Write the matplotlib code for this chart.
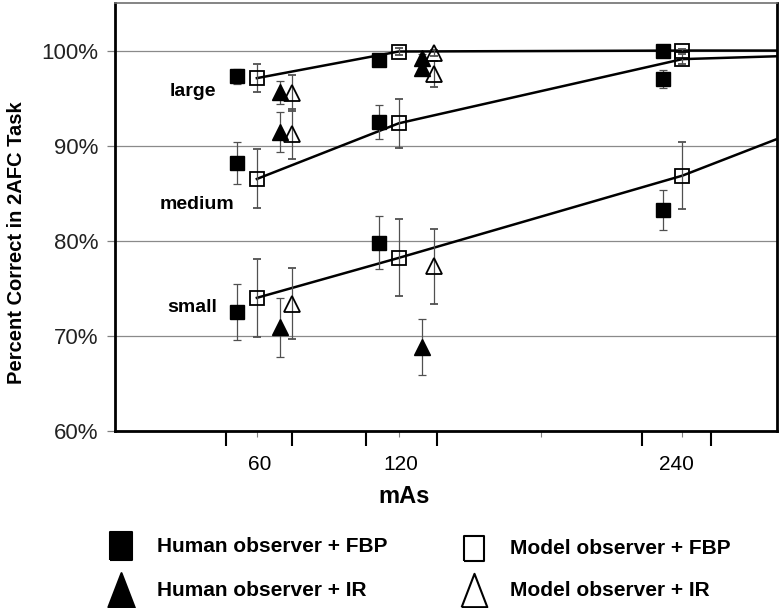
import numpy as np
import matplotlib.pyplot as plt
from matplotlib.lines import Line2D

# mAs levels (model observer + FBP sits on the nominal value)
mas = [60, 120, 240]
mas_ir = [60, 120]
sizes = ["large", "medium", "small"]

# percent correct, rows = lesion size (large, medium, small)
human_fbp = [[97.3, 99.0, 100.0], [88.2, 92.5, 97.0], [72.5, 79.8, 83.2]]
human_fbp_err = [[0.8, 0.0, 0.0], [2.2, 1.8, 0.95], [2.95, 2.8, 2.1]]
model_fbp = [[97.1, 99.9, 100.0], [86.5, 92.35, 99.1], [74.0, 78.2, 86.85]]
model_fbp_err = [[1.45, 0.35, 0.2], [3.1, 2.55, 0.5], [4.1, 4.05, 3.5]]
human_ir = [[95.6, 99.2], [91.4, 98.2], [70.9, 68.8]]
human_ir_err = [[1.25, 0.4], [2.1, 0.4], [3.1, 2.95]]
model_ir = [[95.55, 99.75], [91.2, 97.5], [73.4, 77.3]]
model_ir_err = [[1.9, 0.3], [2.65, 1.35], [3.75, 3.9]]

# model fit continues to the end of the axis
fit_end_mas = 280
fit_end = [100.0, 99.4, 90.7]

tick_labels = ["60", "120", "240"]
yticks = [60, 70, 80, 90, 100]

plt.rcParams["font.family"] = ["Liberation Sans", "DejaVu Sans"]

fig = plt.figure(figsize=(7.8, 6.08), dpi=100)
ax = fig.add_axes([115 / 780, 1 - 431 / 608, 662 / 780, 428 / 608])

err_kw = dict(ecolor="#505050", elinewidth=0.9, capsize=3, capthick=0.9, linestyle="none")
mas_a = np.array(mas, dtype=float)
mas_ir_a = np.array(mas_ir, dtype=float)

for i in range(len(sizes)):
    ax.plot(mas + [fit_end_mas], model_fbp[i] + [fit_end[i]], color="black", lw=1.8, zorder=2)
    ax.errorbar(mas_a - 8.3, human_fbp[i], yerr=human_fbp_err[i], marker="s", ms=9.5,
                mfc="black", mec="black", zorder=3, **err_kw)
    ax.errorbar(mas_a, model_fbp[i], yerr=model_fbp_err[i], marker="s", ms=9.5,
                mfc="none", mec="black", mew=1.3, zorder=3, **err_kw)
    ax.errorbar(mas_ir_a + 9.7, human_ir[i], yerr=human_ir_err[i], marker="^", ms=12,
                mfc="black", mec="black", zorder=3, **err_kw)
    ax.errorbar(mas_ir_a + 15, model_ir[i], yerr=model_ir_err[i], marker="^", ms=12,
                mfc="none", mec="black", mew=1.3, zorder=3, **err_kw)

# size labels
ax.text(33, 95.7, "large", fontsize=14, fontweight="bold", ha="center", va="center")
ax.text(34.5, 83.8, "medium", fontsize=14, fontweight="bold", ha="center", va="center")
ax.text(32.5, 73.0, "small", fontsize=14, fontweight="bold", ha="center", va="center")

ax.set_xlim(0, 280)
ax.set_ylim(60, 105)
ax.set_yticks(yticks)
ax.set_yticklabels([f"{v}%" for v in yticks], fontsize=16, color="#222222")
ax.tick_params(axis="y", length=6, width=0.9, color="#808080", pad=6)
ax.yaxis.grid(True, color="#8a8a8a", lw=0.9)
ax.set_axisbelow(True)

# bracket ticks around each mAs group, small ticks at the nominal mAs
brackets = [47, 75, 106, 136, 223, 252]
ax.set_xticks(brackets)
ax.set_xticklabels([])
ax.set_xticks([60, 120, 180, 240], minor=True)
ax.tick_params(axis="x", which="major", length=11, width=1.5, color="black")
ax.tick_params(axis="x", which="minor", length=4, width=0.8, color="#808080")
for k, lab in enumerate(tick_labels):
    xc = (brackets[2 * k] + brackets[2 * k + 1]) / 2
    ax.text(xc, -0.079, lab, transform=ax.get_xaxis_transform(), ha="center", va="center",
            fontsize=15)

ax.text(0.437, -0.154, "mAs", transform=ax.transAxes, ha="center", va="center",
        fontsize=17, fontweight="bold")
ax.set_ylabel("Percent Correct in 2AFC Task", fontsize=14.5, fontweight="bold")
ax.yaxis.set_label_coords(-0.135, 0.44)

for side in ["left", "bottom", "right"]:
    ax.spines[side].set_linewidth(2)
    ax.spines[side].set_color("black")
ax.spines["top"].set_linewidth(1.2)
ax.spines["top"].set_color("#707070")

# legend drawn below the axes
tall_sq = [(-1, -1.25), (1, -1.25), (1, 1.25), (-1, 1.25), (-1, -1.25)]
tall_tri = [(-1, -1.3), (1, -1.3), (0, 1.3), (-1, -1.3)]
entries = [
    (121, 546, tall_sq, "black", 20, "Human observer + FBP"),
    (474, 548, tall_sq, "none", 18, "Model observer + FBP"),
    (121, 590, tall_tri, "black", 25, "Human observer + IR"),
    (474, 590, tall_tri, "none", 24, "Model observer + IR"),
]
for x, y, mk, fc, ms, lab in entries:
    fig.add_artist(Line2D([x / 780], [1 - y / 608], marker=mk, ms=ms, mfc=fc, mec="black",
                          mew=1.5, linestyle="none", transform=fig.transFigure))
    fig.text((x + 36) / 780, 1 - y / 608, lab, ha="left", va="center", fontsize=15,
             fontweight="bold")

fig.savefig("out.png", dpi=100)
